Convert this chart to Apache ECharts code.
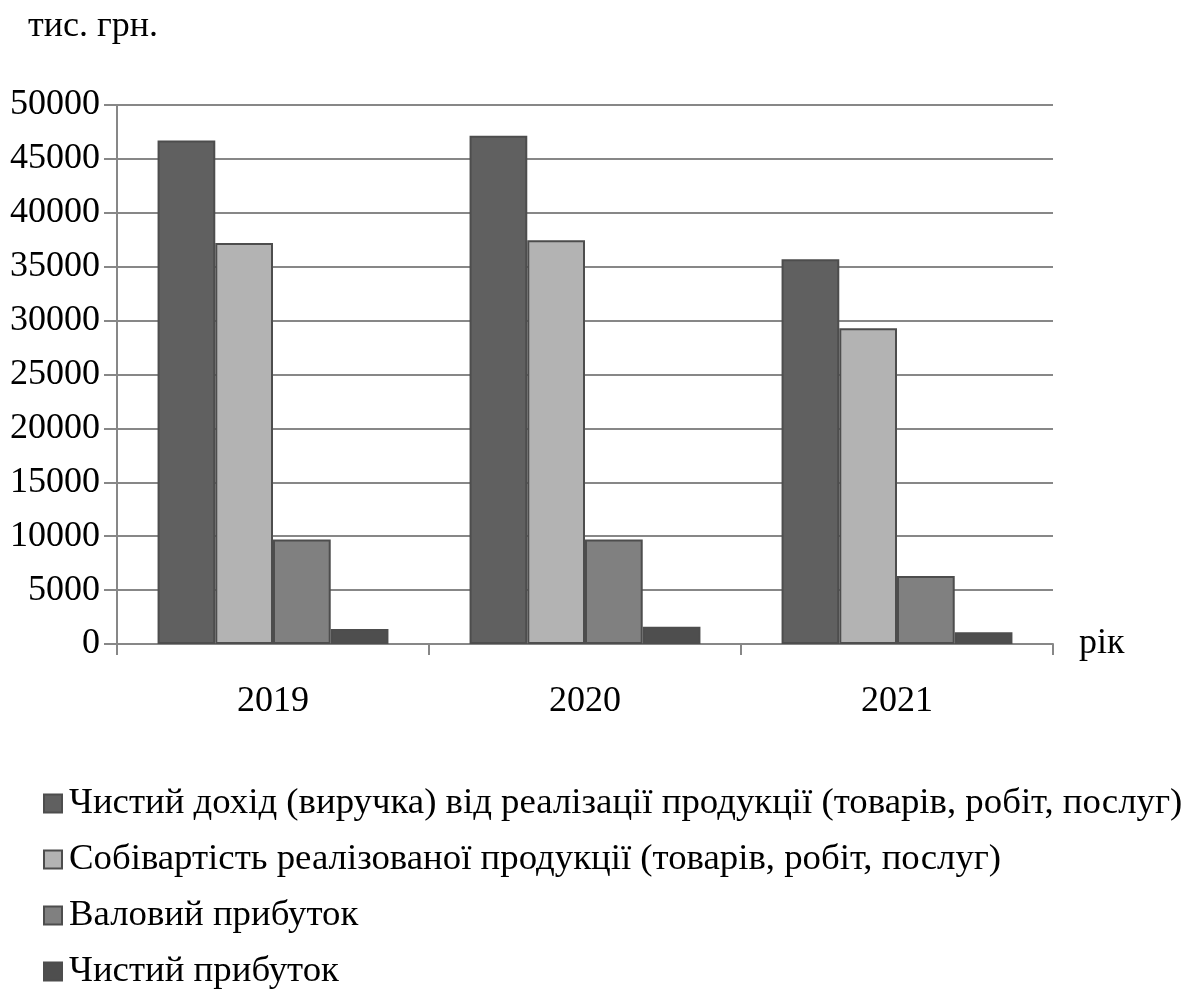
<!DOCTYPE html>
<html>
<head>
<meta charset="utf-8">
<script src="https://cdn.jsdelivr.net/npm/echarts@6/dist/echarts.min.js"></script>
<style>
html,body{margin:0;padding:0;background:#fff;}
#chart{width:1190px;height:990px;}
</style>
</head>
<body>
<div id="chart"></div>
<script>
const categories = ['2019', '2020', '2021'];
const seriesNames = [
  'Чистий дохід (виручка) від реалізації продукції (товарів, робіт, послуг)',
  'Собівартість реалізованої продукції (товарів, робіт, послуг)',
  'Валовий прибуток',
  'Чистий прибуток'
];
const netRevenue = [46700, 47150, 35700];
const costOfSales = [37200, 37450, 29300];
const grossProfit = [9700, 9700, 6300];
const netProfit = [1400, 1600, 1100];
const yTicks = { min: 0, max: 50000, interval: 5000 };
const unitLabel = 'тис. грн.';
const xAxisLabel = 'рік';

const colors = ['#606060', '#b3b3b3', '#808080', '#4e4e4e'];
const FONT = '"Liberation Serif", "Times New Roman", serif';
const values = [netRevenue, costOfSales, grossProfit, netProfit];

const chart = echarts.init(document.getElementById('chart'), null, {renderer: 'canvas'});
chart.setOption({
  animation: false,
  backgroundColor: '#fff',
  textStyle: {fontFamily: FONT},
  grid: {left: 117, right: 137, top: 105, bottom: 346, containLabel: false},
  xAxis: {
    type: 'category',
    data: categories,
    name: xAxisLabel,
    nameLocation: 'end',
    nameGap: 26,
    nameTextStyle: {fontFamily: FONT, fontSize: 36, color: '#000', verticalAlign: 'middle'},
    axisLine: {show: true, lineStyle: {color: '#878787', width: 2}},
    axisTick: {show: true, length: 11, lineStyle: {color: '#878787', width: 2}},
    axisLabel: {fontFamily: FONT, fontSize: 36, color: '#000', margin: 40}
  },
  yAxis: {
    type: 'value',
    min: yTicks.min, max: yTicks.max, interval: yTicks.interval,
    axisLine: {show: true, lineStyle: {color: '#878787', width: 2}},
    axisTick: {show: true, length: 13, lineStyle: {color: '#878787', width: 2}},
    splitLine: {show: true, lineStyle: {color: '#878787', width: 2}},
    axisLabel: {fontFamily: FONT, fontSize: 36, color: '#000', margin: 17,
      formatter: v => String(v)}
  },
  legend: {
    orient: 'vertical',
    left: 43,
    top: 785,
    height: 400,
    padding: 0,
    itemWidth: 18,
    itemHeight: 18,
    itemGap: 19,
    icon: 'rect',
    textStyle: {fontFamily: FONT, fontSize: 36.8, color: '#000', lineHeight: 37, padding: [0, 0, 0, 2]},
    data: seriesNames
  },
  graphic: [{
    type: 'text',
    left: 28,
    top: 9,
    style: {text: unitLabel, fontFamily: FONT, fontSize: 36, fill: '#000'}
  }],
  series: seriesNames.map((name, i) => ({
    name: name,
    type: 'bar',
    data: values[i],
    barGap: '0%',
    barCategoryGap: '26%',
    itemStyle: {color: colors[i], borderColor: '#4d4d4d', borderWidth: 2}
  }))
});
</script>
</body>
</html>
